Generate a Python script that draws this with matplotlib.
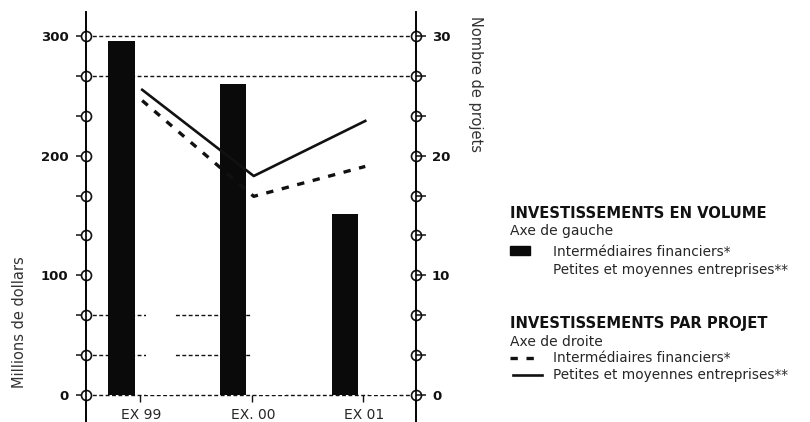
import numpy as np
import matplotlib
matplotlib.use("Agg")
from matplotlib import pyplot as plt
from matplotlib.patches import Rectangle
from matplotlib.lines import Line2D

# data
years = ["EX 99", "EX. 00", "EX 01"]
volume_if = [296, 260, 151]        # millions de dollars, black bars
volume_pme = [110, 95, 70]         # white bars (invisible on the scan)
projet_if = [24.6, 16.6, 19.1]     # dashed line, right axis
projet_pme = [25.5, 18.3, 22.9]    # solid line, right axis
left_labels = ["0", "100", "200", "300"]
right_labels = ["0", "10", "20", "30"]

W, H = 810, 422
ink = "#111111"
grey = "#262626"
plt.rcParams["font.family"] = ["DejaVu Sans"]

fig = plt.figure(figsize=(W / 100, H / 100), dpi=100)
ax = fig.add_axes([86 / W, 0.0, 330 / W, 410 / H])
ax2 = ax.twinx()

x = np.arange(len(years))
ax.set_xlim(-0.484, 2.475)
ax.set_ylim(-22.5, 320)
ax2.set_ylim(-2.25, 32.0)

# gridlines
dash = (0, (2.8, 1.8))
for lev in [0, 800 / 3, 300]:
    ax.axhline(lev, color=ink, lw=1.0, linestyle=dash, zorder=1)
for lev in [100 / 3, 200 / 3]:
    ax.hlines(lev, -0.484, x[1], color=ink, lw=1.0, linestyle=dash, zorder=1)

ax.bar(x - 0.165, volume_if, width=0.235, color="#0a0a0a", zorder=2)
ax.bar(x + 0.18, volume_pme, width=0.26, color="white", zorder=1.5)

ax2.plot(x + 0.02, projet_if, color=ink, lw=2.4, linestyle=(0, (2.2, 2.6)), zorder=3)
ax2.plot(x + 0.02, projet_pme, color=ink, lw=1.9, zorder=3)

# category ticks and labels
ax.plot(x, [0] * len(x), linestyle="none", marker=3, markersize=5,
        color=ink, mew=1.0, clip_on=False, zorder=4)
for xi, lab in zip(x, years):
    ax.annotate(lab, (xi, 0), xytext=(1, -9), textcoords="offset points",
                ha="center", va="top", fontsize=10, color=grey)

# spines
for a in (ax, ax2):
    a.spines["top"].set_visible(False)
    a.spines["bottom"].set_visible(False)
    a.spines["left"].set_linewidth(1.2)
    a.spines["right"].set_linewidth(1.2)
    a.set_xticks([])

ticks_l = np.linspace(0, 300, 10)
ticks_r = np.linspace(0, 30, 10)
ax.set_yticks(ticks_l)
ax.set_yticklabels([left_labels[i // 3] if i % 3 == 0 else "" for i in range(10)])
ax2.set_yticks(ticks_r)
ax2.set_yticklabels([right_labels[i // 3] if i % 3 == 0 else "" for i in range(10)])
ax.tick_params(axis="y", direction="out", length=7.5, width=1.1, pad=5,
               labelsize=9.5, colors=ink)
ax2.tick_params(axis="y", direction="out", length=7.5, width=1.1, pad=4,
                labelsize=9.5, colors=ink)
for lab in ax.get_yticklabels() + ax2.get_yticklabels():
    lab.set_fontweight("bold")

# circle markers on both axis lines
for side in (0, 1):
    ax.plot([side] * len(ticks_l), ticks_l, linestyle="none", marker="o",
            markersize=7.2, mfc="white", mec=ink, mew=1.2,
            transform=ax.get_yaxis_transform(), clip_on=False, zorder=5)

# axis titles
fig.text(20 / W, 1 - 322 / H, "Millions de dollars", rotation=90,
         ha="center", va="center", fontsize=10.5, color="#333333")
fig.text(475 / W, 1 - 84 / H, "Nombre de projets", rotation=270,
         ha="center", va="center", fontsize=10.5, color="#333333")


def fx(px):
    return px / W


def fy(py):
    return 1 - py / H


# legend block
fig.text(fx(510), fy(218), "INVESTISSEMENTS EN VOLUME", fontsize=10.6,
         fontweight="bold", color=ink, va="baseline")
fig.text(fx(510), fy(235), "Axe de gauche", fontsize=10, color=grey, va="baseline")
fig.patches.append(Rectangle((fx(510), fy(255)), 20 / W, 9 / H, color="#0a0a0a",
                             transform=fig.transFigure))
fig.text(fx(553), fy(256), "Intermédiaires financiers*", fontsize=9.8,
         color=grey, va="baseline")
fig.text(fx(553), fy(274), "Petites et moyennes entreprises**", fontsize=9.8,
         color=grey, va="baseline")

fig.text(fx(510), fy(328), "INVESTISSEMENTS PAR PROJET", fontsize=10.6,
         fontweight="bold", color=ink, va="baseline")
fig.text(fx(510), fy(346), "Axe de droite", fontsize=10, color=grey, va="baseline")
fig.lines.append(Line2D([fx(510), fx(541)], [fy(358), fy(358)], color=ink, lw=2.4,
                        linestyle=(0, (2.2, 2.6)), transform=fig.transFigure))
fig.text(fx(553), fy(362), "Intermédiaires financiers*", fontsize=9.8,
         color=grey, va="baseline")
fig.lines.append(Line2D([fx(513), fx(542)], [fy(375), fy(375)], color=ink, lw=1.9,
                        transform=fig.transFigure))
fig.text(fx(553), fy(379), "Petites et moyennes entreprises**", fontsize=9.8,
         color=grey, va="baseline")

fig.savefig("out.png", dpi=100)
